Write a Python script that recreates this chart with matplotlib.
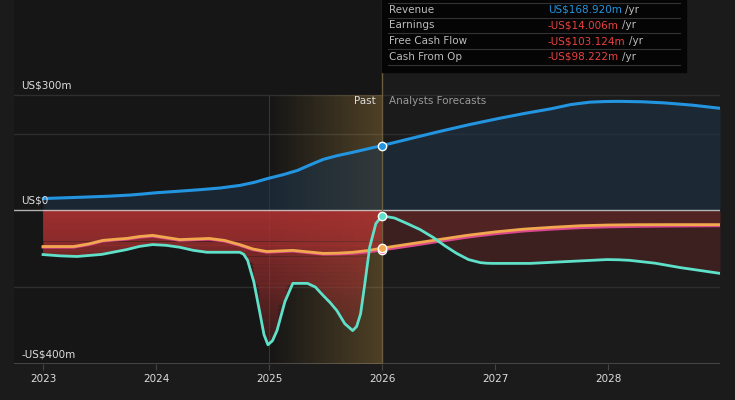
import numpy as np
import matplotlib.pyplot as plt
from matplotlib.patches import Rectangle
from matplotlib.path import Path

# values in US$ millions, x in fractional years
rev_x = [2023.0, 2023.4, 2023.77, 2024.0, 2024.39, 2024.74, 2025.0, 2025.25, 2025.48, 2025.72, 2026.0,
         2026.5, 2027.04, 2027.5, 2027.84, 2028.1, 2028.5, 2028.99]
rev_y = [31, 35, 40, 46, 54, 65, 84, 104, 133, 150, 168.92,
         205, 240, 265, 282, 284, 280, 266]

earn_x = [2023.0, 2023.3, 2023.74, 2023.97, 2024.21, 2024.45, 2024.74, 2024.81, 2024.92, 2024.99, 2025.07,
          2025.21, 2025.34, 2025.48, 2025.6, 2025.74, 2025.81, 2025.89, 2026.0,
          2026.22, 2026.45, 2026.66, 2026.87, 2026.98, 2027.31, 2027.99, 2028.19, 2028.64, 2028.99]
earn_y = [-115, -120, -102, -89, -96, -109, -109, -130, -269, -350, -313,
          -190, -190, -222, -261, -313, -269, -96, -14.006,
          -34, -70, -112, -136, -138, -138, -128, -130, -149, -164]

cfo_x = [2023.0, 2023.27, 2023.53, 2023.74, 2023.97, 2024.21, 2024.47, 2024.74, 2024.98, 2025.21, 2025.48,
         2025.74, 2026.0, 2026.5, 2027.0, 2027.5, 2028.0, 2028.5, 2028.99]
cfo_y = [-94, -94, -78, -73, -65, -76, -73, -89, -107, -104, -112,
         -109, -98.222, -76, -56, -44, -38, -37, -37]

fcf_x = cfo_x
fcf_y = [-96, -96, -80, -75, -67, -78, -75, -91, -109, -106, -114,
         -112, -103.124, -81, -61, -49, -43, -41, -40]

years = [2023, 2024, 2025, 2026, 2027, 2028]
now = 2026.0

c_rev = '#2394df'
c_earn = '#5fe0c9'
c_cfo = '#f2a84e'
c_fcf = '#d9478e'
bg = '#1b1b1b'


def curve(xs, ys):
    # monotone bezier through the read points, flattened by matplotlib
    x = np.asarray(xs, float)
    y = np.asarray(ys, float)
    h = np.diff(x)
    d = np.diff(y) / h
    m = np.zeros_like(y)
    m[0], m[-1] = d[0], d[-1]
    for i in range(1, len(y) - 1):
        if d[i - 1] * d[i] > 0:
            w1 = 2 * h[i] + h[i - 1]
            w2 = h[i] + 2 * h[i - 1]
            m[i] = (w1 + w2) / (w1 / d[i - 1] + w2 / d[i])
    verts = [(x[0], y[0])]
    codes = [Path.MOVETO]
    for i in range(len(x) - 1):
        verts += [(x[i] + h[i] / 3, y[i] + m[i] * h[i] / 3),
                  (x[i + 1] - h[i] / 3, y[i + 1] - m[i + 1] * h[i] / 3),
                  (x[i + 1], y[i + 1])]
        codes += [Path.CURVE4] * 3
    poly = Path(verts, codes).to_polygons(closed_only=False)[0]
    return poly[:, 0], poly[:, 1]


fig = plt.figure(figsize=(7.35, 4), dpi=100, facecolor=bg)
ax = fig.add_axes([14 / 735, 36 / 400, 706 / 735, 364 / 400])
ax.set_facecolor(bg)
x0, x1 = 2022.743, 2028.99

rx, ry = curve(rev_x, rev_y)
ex, ey = curve(earn_x, earn_y)
cx, cy = curve(cfo_x, cfo_y)
fx, fy = curve(fcf_x, fcf_y)

# darker past background
ax.axvspan(x0, now, color='#000000', alpha=0.18, lw=0, zorder=0)

# grid
for g in [300, 200, -200]:
    ax.axhline(g, color='#2e2e2e', lw=1, zorder=1)
ax.axhline(-400, color='#444444', lw=1.5, zorder=1)

# highlight band 2025-2026 under the fills
band = np.zeros((1, 120, 4))
band[..., 0], band[..., 1], band[..., 2] = 0.88, 0.69, 0.31
band[..., 3] = np.linspace(0, 0.28, 120)
ax.imshow(band, extent=[2025, now, -400, 300], aspect='auto', interpolation='nearest', zorder=1.5)
ax.plot([2025, 2025], [-400, 300], color='#3a3528', lw=0.8, zorder=1.5)

# revenue fill
ax.fill_between(rx, 0, ry, color='#1e3448', alpha=0.6, lw=0, zorder=2)

# negative fills
ax.fill_between(ex, 0, ey, color='#7a2a2a', alpha=0.35, lw=0, zorder=2)
ax.fill_between(cx, 0, cy, color='#7a2a2a', alpha=0.35, lw=0, zorder=2)

# bright red gradient on past negative area, in horizontal layers
lo = np.minimum(ey, np.interp(ex, cx, cy))
mask = ex <= now
px, plo = ex[mask], lo[mask]
levels = np.linspace(0, -350, 36)
for a, b in zip(levels[1:], levels[:-1]):
    mid = (a + b) / 2
    ax.fill_between(px, b, np.maximum(plo, a), where=plo < b, interpolate=True,
                    color='#b83333', alpha=0.75 * (mid + 350) / 350, lw=0, zorder=3)

ax.axhline(0, color='#d8d8d8', lw=1, alpha=0.8, zorder=5)
ax.axvline(now, color='#6b5d3d', lw=1, zorder=5)

# lines
ax.plot(rx, ry, color=c_rev, lw=2.2, zorder=6, solid_capstyle='round')
ax.plot(fx, fy, color=c_fcf, lw=2, zorder=6)
ax.plot(cx, cy, color=c_cfo, lw=2, zorder=7)
ax.plot(ex, ey, color=c_earn, lw=2, zorder=8)

for v, c in [(168.92, c_rev), (-103.124, c_fcf), (-98.222, c_cfo), (-14.006, c_earn)]:
    ax.plot([now], [v], 'o', ms=6, color=c, mec='white', mew=1, zorder=9)

ax.text(2025.94, 273, 'Past', color='#dddddd', fontsize=7.5, ha='right', va='bottom', zorder=10)
ax.text(2026.06, 273, 'Analysts Forecasts', color='#9a9a9a', fontsize=7.5, ha='left', va='bottom', zorder=10)

# y labels
for v, lab in [(300, 'US$300m'), (0, 'US$0'), (-400, '-US$400m')]:
    ax.text(2022.81, v + 12, lab, color='#dddddd', fontsize=7.5, ha='left', va='bottom', zorder=10)

ax.set_xlim(x0, x1)
ax.set_ylim(-400, 548)
ax.set_xticks(years)
ax.set_xticklabels([str(y) for y in years])
ax.set_yticks([])
ax.tick_params(axis='x', colors='#444444', labelcolor='#dddddd', labelsize=7.5, length=4, pad=3)
for s in ax.spines.values():
    s.set_visible(False)

# tooltip box
fig.patches.append(Rectangle((382 / 735, 1 - 72 / 400), 304 / 735, 72 / 400,
                             transform=fig.transFigure, color='#050505', zorder=20))
rows = [('Revenue', 'US$168.920m', c_rev), ('Earnings', '-US$14.006m', '#e8413f'),
        ('Free Cash Flow', '-US$103.124m', '#e8413f'), ('Cash From Op', '-US$98.222m', '#e8413f')]
for i, (name, val, col) in enumerate(rows):
    yy = 1 - (10 + 15.5 * i) / 400
    fig.text(389 / 735, yy, name, color='#bbbbbb', fontsize=7.5, va='center', zorder=21)
    t = fig.text(548 / 735, yy, val, color=col, fontsize=7.5, va='center', zorder=21)
    fig.canvas.draw()
    bb = t.get_window_extent()
    fig.text(bb.x1 / 735 + 0.004, yy, '/yr', color='#bbbbbb', fontsize=7.5, va='center', zorder=21)
for yl in [2.7, 18, 33, 49, 65]:
    fig.lines.append(plt.Line2D([388 / 735, 680 / 735], [1 - yl / 400] * 2, transform=fig.transFigure,
                                color='#333333', lw=0.8, zorder=21))

fig.savefig('out.png', dpi=100, facecolor=bg)
